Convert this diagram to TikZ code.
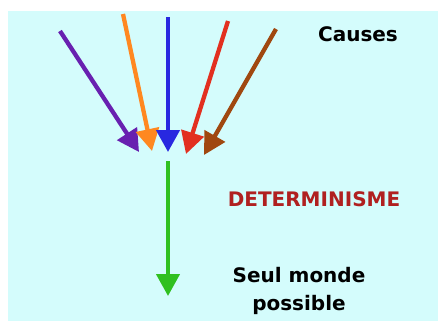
\documentclass[tikz,border=0pt]{standalone}
\usepackage{fontspec}
\setmainfont{DejaVu Sans}
\usetikzlibrary{arrows.meta}
\definecolor{bgcyan}{RGB}{212,252,252}
\definecolor{cpurple}{RGB}{104,32,176}
\definecolor{corange}{RGB}{255,136,32}
\definecolor{cblue}{RGB}{40,40,224}
\definecolor{cred}{RGB}{226,48,32}
\definecolor{cbrown}{RGB}{160,72,16}
\definecolor{cgreen}{RGB}{48,192,32}
\definecolor{cdet}{RGB}{176,32,32}
\tikzset{
  cause/.style={line width=4.3pt, -{Triangle[length=22pt,width=23pt]}},
  lbl/.style={font=\fontsize{20}{28}\selectfont\bfseries, inner sep=0pt, align=center}
}
\begin{document}
\begin{tikzpicture}[x=1pt,y=-1pt]
\useasboundingbox (0,0) rectangle (438,322);
\fill[bgcyan] (8,11) rectangle (438,321);
% start points
\coordinate (s1) at (60,31);
\coordinate (s2) at (123,14);
\coordinate (s3) at (168,17);
\coordinate (s4) at (228,21);
\coordinate (s5) at (276,29);
% tips
\coordinate (t1) at (139,152);
\coordinate (t2) at (152,151);
\coordinate (t3) at (168,152);
\coordinate (t4) at (186,154);
\coordinate (t5) at (204,155);
\coordinate (g1) at (168,161);
\coordinate (g2) at (168,296);
\draw[cause, cpurple] (s1) -- (t1);
\draw[cause, corange] (s2) -- (t2);
\draw[cause, cblue] (s3) -- (t3);
\draw[cause, cred] (s4) -- (t4);
\draw[cause, cbrown] (s5) -- (t5);
\draw[cause, cgreen] (g1) -- (g2);
\node[lbl] (causes) at (358,34) {Causes};
\node[lbl, text=cdet] (det) at (314,199) {DETERMINISME};
\node[lbl] (seul) at (299,291) {Seul monde\\possible};
\end{tikzpicture}
\end{document}
